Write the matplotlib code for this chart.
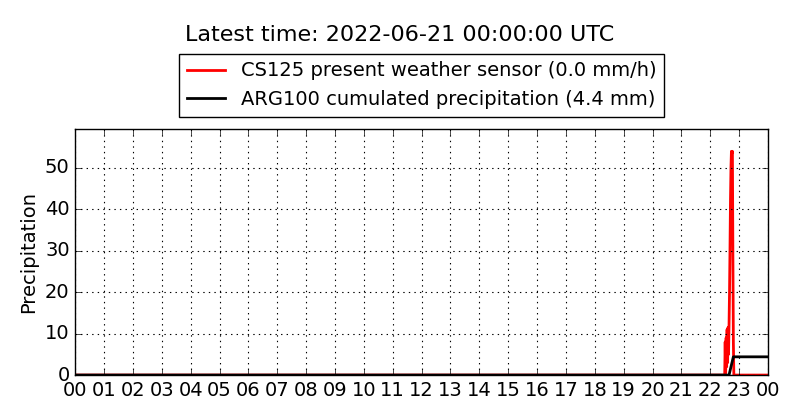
import matplotlib
matplotlib.use("Agg")
import matplotlib.pyplot as plt

plt.style.use("classic")
plt.rcParams['font.family'] = ['DejaVu Sans']

# CS125 present weather sensor, rain rate (mm/h); time in hours of day
cs125_hours = [0.0, 22.50, 22.517, 22.533, 22.55, 22.567, 22.583, 22.60, 22.617,
               22.633, 22.65, 22.667, 22.683, 22.70, 22.717, 22.733, 22.75,
               22.767, 22.783, 22.80, 22.817, 24.0]
cs125_rate = [0.0, 0.0, 8.0, 0.5, 9.0, 2.0, 11.0, 3.0, 11.5, 5.0, 12.0, 20.0,
              30.0, 42.0, 50.0, 54.0, 53.5, 54.0, 30.0, 8.0, 0.0, 0.0]

# ARG100 cumulated precipitation (mm)
arg_hours = [0.0, 22.65, 22.80, 24.0]
arg_cum = [0.0, 0.0, 4.4, 4.4]

hour_labels = ["00", "01", "02", "03", "04", "05", "06", "07", "08", "09", "10",
               "11", "12", "13", "14", "15", "16", "17", "18", "19", "20", "21",
               "22", "23", "00"]

fig = plt.figure(figsize=(8, 4.2), dpi=100, facecolor="white")
ax = fig.add_axes([0.094, 0.107, 0.866, 0.586])
ax.plot(cs125_hours, cs125_rate, color="red", lw=2,
        label="CS125 present weather sensor (0.0 mm/h)")
ax.plot(arg_hours, arg_cum, color="black", lw=2,
        label="ARG100 cumulated precipitation (4.4 mm)")
ax.set_xlim(0, 24)
ax.set_ylim(0, max(cs125_rate) * 1.1)
ax.set_xticks(range(25))
ax.set_xticklabels(hour_labels)
ax.set_yticks([0, 10, 20, 30, 40, 50])
ax.tick_params(labelsize=14)
ax.grid(True, color="black", linestyle=":", linewidth=0.8)
ax.set_ylabel("Precipitation", fontsize=14)
ax.legend(loc="lower center", bbox_to_anchor=(0.5, 1.0), fontsize=14,
          frameon=True, fancybox=False, handlelength=2, numpoints=1,
          borderaxespad=0.62)
fig.suptitle("Latest time: 2022-06-21 00:00:00 UTC", fontsize=16, y=0.94)
fig.savefig("out.png", dpi=100, facecolor="white")
